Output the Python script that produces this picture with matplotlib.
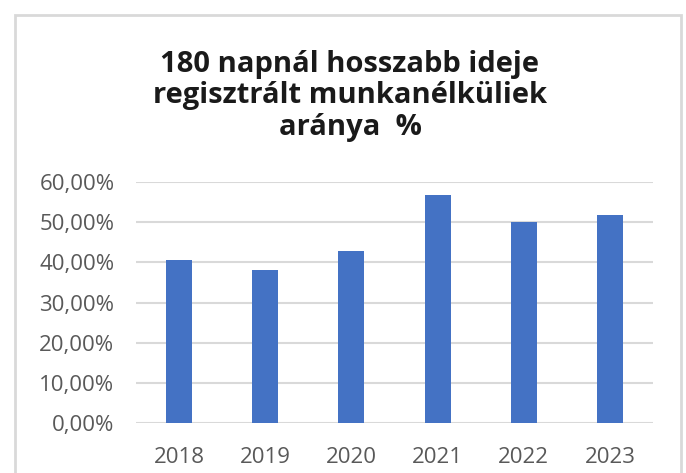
import matplotlib
matplotlib.use('Agg')
from matplotlib import pyplot as plt
from matplotlib.patches import Rectangle
from matplotlib.ticker import FuncFormatter

years = ['2018', '2019', '2020', '2021', '2022', '2023']
values = [40.5, 38.0, 42.8, 56.8, 50.1, 51.7]
title = '180 napnál hosszabb ideje\nregisztrált munkanélküliek\naránya  %'

plt.rcParams['font.family'] = ['Open Sans', 'DejaVu Sans']

fig = plt.figure(figsize=(6.86, 4.73), dpi=100)
W, H = 686, 473
ax = fig.add_axes([136/W, (H-423)/H, (653-136)/W, (423-182)/H])

ax.bar(range(len(years)), values, width=0.30, color='#4472c4', zorder=3)
ax.set_xlim(-0.5, len(years)-0.5)
ax.set_ylim(0, 60)
ax.set_yticks([0, 10, 20, 30, 40, 50, 60])
ax.yaxis.set_major_formatter(FuncFormatter(lambda v, p: ('%.2f%%' % v).replace('.', ',')))
ax.set_xticks(range(len(years)))
ax.set_xticklabels(years)
ax.grid(axis='y', color='#d9d9d9', linewidth=1.5, zorder=0)
for s in ax.spines.values():
	s.set_visible(False)
ax.tick_params(length=0, labelsize=16, colors='#595959')
ax.tick_params(axis='y', pad=15.5)
ax.tick_params(axis='x', pad=17)

# chart frame (bottom edge cut off)
fig.patches.append(Rectangle((15/W, -0.05), (681-15)/W, (H-15)/H+0.05, transform=fig.transFigure,
	fill=False, edgecolor='#d9d9d9', linewidth=2))

fig.text(350/W, 1-96/H, title, ha='center', va='center', fontsize=21, fontweight='bold',
	color='#1a1a1a', linespacing=1.12)

fig.savefig('out.png', dpi=100)
